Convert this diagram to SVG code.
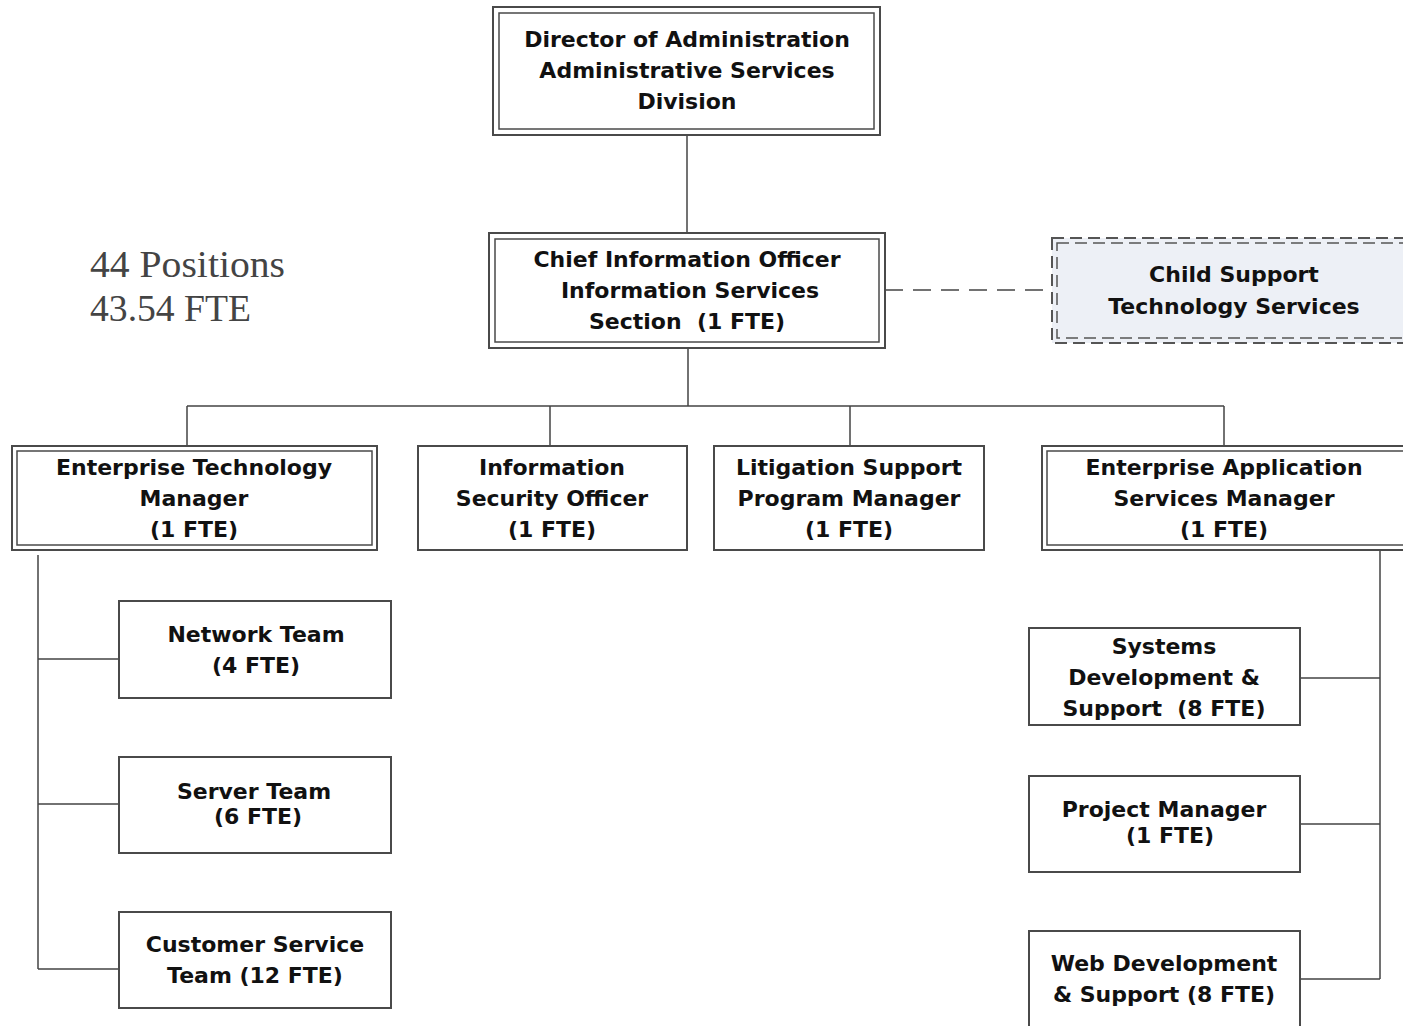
<svg xmlns="http://www.w3.org/2000/svg" width="1403" height="1026" viewBox="0 0 1403 1026">
<style>
.b{fill:#fff;stroke:#4a4a4a;stroke-width:2}
.bi{fill:none;stroke:#4a4a4a;stroke-width:1.5}
.t{font-family:"DejaVu Sans",Verdana,sans-serif;font-weight:bold;font-size:22px;fill:#111;text-anchor:middle;white-space:pre}
.c{fill:none;stroke:#444;stroke-width:1.5}
.side{font-family:"Liberation Serif","DejaVu Serif",serif;font-size:37px;fill:#444}
</style>
<rect width="1403" height="1026" fill="#fff"/>
<g id="connectors">
<path class="c" d="M687 135V233"/>
<path class="c" d="M885 290H1052" stroke-dasharray="18,10"/>
<path class="c" d="M688 348V406M187 406H1224M187 406V446M550 406V446M850 406V446M1224 406V446"/>
<path class="c" d="M38 555V969M38 659H119M38 804H119M38 969H119"/>
<path class="c" d="M1380 548V979M1300 678H1380M1300 824H1380M1300 979H1380"/>
</g>
<g id="side-label">
<text class="side" x="90" y="277" textLength="195" lengthAdjust="spacingAndGlyphs">44 Positions</text>
<text class="side" x="90" y="321" textLength="161" lengthAdjust="spacingAndGlyphs">43.54 FTE</text>
</g>
<g id="director">
<rect class="b" x="493" y="7" width="387" height="128"/>
<rect class="bi" x="499" y="13" width="375" height="116"/>
<text class="t" x="687" y="47">Director of Administration</text>
<text class="t" x="687" y="78">Administrative Services</text>
<text class="t" x="687" y="109">Division</text>
</g>
<g id="cio">
<rect class="b" x="489" y="233" width="396" height="115"/>
<rect class="bi" x="495" y="239" width="384" height="103"/>
<text class="t" x="687" y="267">Chief Information Officer</text>
<text class="t" x="690" y="298">Information Services</text>
<text class="t" x="687" y="329">Section  (1 FTE)</text>
</g>
<g id="child-support">
<rect x="1052" y="238" width="360" height="105" fill="#edf0f6" stroke="#555" stroke-width="2" stroke-dasharray="12,6"/>
<rect x="1057" y="243" width="350" height="95" fill="none" stroke="#555" stroke-width="1.5" stroke-dasharray="12,6"/>
<text class="t" x="1234" y="282">Child Support</text>
<text class="t" x="1234" y="314">Technology Services</text>
</g>
<g id="etm">
<rect class="b" x="12" y="446" width="365" height="104"/>
<rect class="bi" x="17" y="451" width="355" height="94"/>
<text class="t" x="194" y="475">Enterprise Technology</text>
<text class="t" x="194" y="506">Manager</text>
<text class="t" x="194" y="537">(1 FTE)</text>
</g>
<g id="iso">
<rect class="b" x="418" y="446" width="269" height="104"/>
<text class="t" x="552" y="475">Information</text>
<text class="t" x="552" y="506">Security Officer</text>
<text class="t" x="552" y="537">(1 FTE)</text>
</g>
<g id="litigation">
<rect class="b" x="714" y="446" width="270" height="104"/>
<text class="t" x="849" y="475">Litigation Support</text>
<text class="t" x="849" y="506">Program Manager</text>
<text class="t" x="849" y="537">(1 FTE)</text>
</g>
<g id="easm">
<rect class="b" x="1042" y="446" width="370" height="104"/>
<rect class="bi" x="1047" y="451" width="360" height="94"/>
<text class="t" x="1224" y="475">Enterprise Application</text>
<text class="t" x="1224" y="506">Services Manager</text>
<text class="t" x="1224" y="537">(1 FTE)</text>
</g>
<g id="network">
<rect class="b" x="119" y="601" width="272" height="97"/>
<text class="t" x="256" y="642">Network Team</text>
<text class="t" x="256" y="673">(4 FTE)</text>
</g>
<g id="server">
<rect class="b" x="119" y="757" width="272" height="96"/>
<text class="t" x="254" y="799">Server Team</text>
<text class="t" x="258" y="824">(6 FTE)</text>
</g>
<g id="customer">
<rect class="b" x="119" y="912" width="272" height="96"/>
<text class="t" x="255" y="952">Customer Service</text>
<text class="t" x="255" y="983">Team (12 FTE)</text>
</g>
<g id="systems">
<rect class="b" x="1029" y="628" width="271" height="97"/>
<text class="t" x="1164" y="654">Systems</text>
<text class="t" x="1164" y="685">Development &amp;</text>
<text class="t" x="1164" y="716">Support  (8 FTE)</text>
</g>
<g id="project">
<rect class="b" x="1029" y="776" width="271" height="96"/>
<text class="t" x="1164" y="817">Project Manager</text>
<text class="t" x="1170" y="843">(1 FTE)</text>
</g>
<g id="web">
<rect class="b" x="1029" y="931" width="271" height="110"/>
<text class="t" x="1164" y="971">Web Development</text>
<text class="t" x="1164" y="1002">&amp; Support (8 FTE)</text>
</g>
</svg>
